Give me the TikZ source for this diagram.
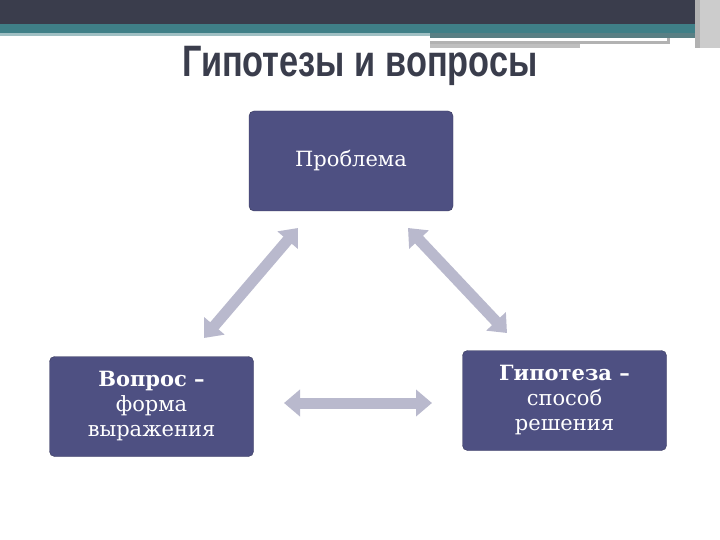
\documentclass[tikz,border=0pt]{standalone}
\usepackage{fontspec}
\setmainfont{DejaVu Serif}
\newfontfamily\titlefont{Liberation Sans}
\usetikzlibrary{arrows.meta}
\definecolor{dark}{HTML}{3A3D4C}
\definecolor{teal}{HTML}{3F7F87}
\definecolor{boxc}{HTML}{4E5082}
\definecolor{arr}{HTML}{B9B9CD}
\tikzset{
 box/.style={draw=boxc!70!black,fill=boxc,rounded corners=5pt,minimum width=204pt,minimum height=100pt,text=white,align=center,font=\fontsize{21}{25}\selectfont},
 dbl/.style={arr,line width=11pt,{Triangle[length=16pt,width=26pt]}-{Triangle[length=16pt,width=26pt]},shorten <=0pt,shorten >=0pt}
}
\begin{document}
\begin{tikzpicture}[x=1pt,y=-1pt]
\useasboundingbox (0,0) rectangle (720,540);
\fill[dark] (0,0) rectangle (720,24);
\fill[teal] (0,24) rectangle (700,33);
\fill[teal!50!white] (0,33) rectangle (430,36);
\fill[teal!60!gray] (430,33) rectangle (700,38);
\fill[gray!60] (430,38) rectangle (670,44);
\fill[white] (430,38) rectangle (667,41);
\fill[gray!50] (430,44) rectangle (580,48);
\fill[gray!60] (695,0) rectangle (700,48);
\fill[gray!40] (700,0) rectangle (720,48);
\node[text=dark,font=\titlefont\bfseries\fontsize{44}{44}\selectfont,xscale=0.78] (t) at (360,66) {Гипотезы и вопросы};
\node[box] (p) at (351,161) {Проблема};
\node[box] (q) at (151.5,406.5) {\textbf{Вопрос –}\\форма\\выражения};
\node[box] (h) at (564.5,400.5) {\textbf{Гипотеза –}\\способ\\решения};
\coordinate (a1) at (298,228); \coordinate (a2) at (204,338);
\coordinate (b1) at (408,228); \coordinate (b2) at (507,333);
\coordinate (c1) at (284,403); \coordinate (c2) at (432,403);
\draw[dbl] (a1) -- (a2);
\draw[dbl] (b1) -- (b2);
\draw[dbl] (c1) -- (c2);
\end{tikzpicture}
\end{document}
